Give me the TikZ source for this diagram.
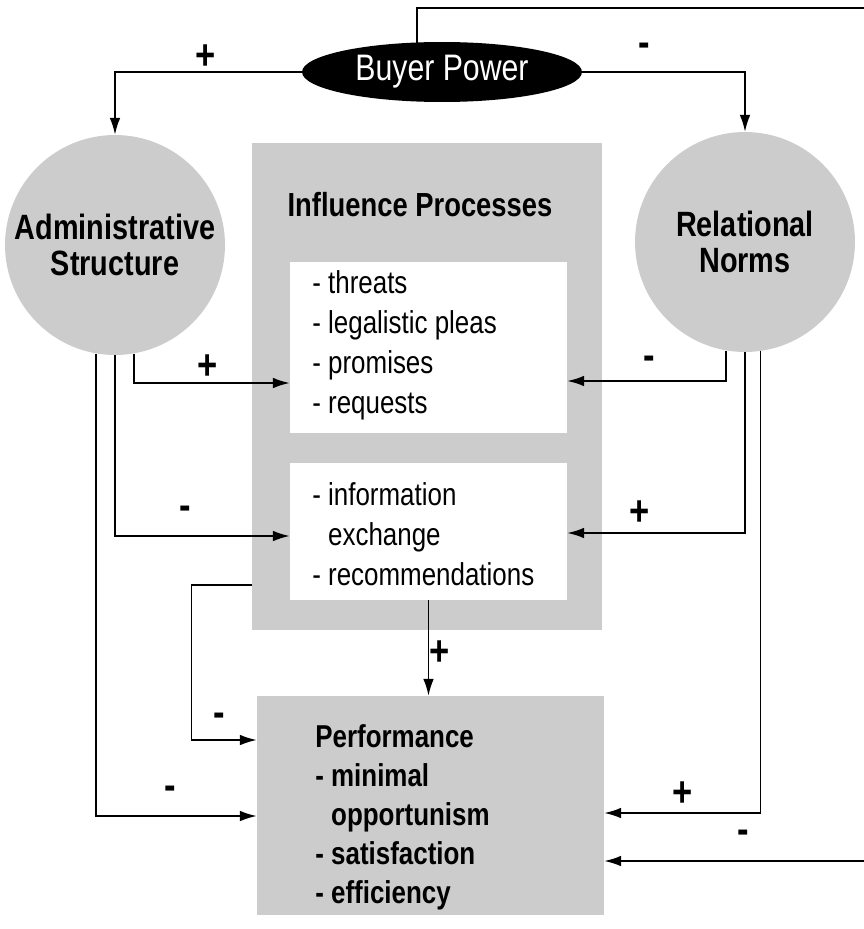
\documentclass[tikz,border=0pt]{standalone}
\usepackage{fontspec}
\setmainfont{Liberation Sans}[FakeStretch=0.82]
\usetikzlibrary{shapes.geometric, arrows.meta, calc}

\tikzset{
    pfeil/.style={-{Latex[length=9.5pt,width=6pt]}, line width=0.9pt},
    kreis/.style={circle, fill=black!20, minimum size=4.4cm, inner sep=0pt, align=center,
        font=\bfseries\fontsize{20}{20}\selectfont},
    grau/.style={rectangle, fill=black!20, inner sep=0pt},
    weiss/.style={rectangle, fill=white, inner sep=0pt},
    liste/.style={anchor=north west, align=left, inner sep=0pt,
        font=\fontsize{18}{22.8}\selectfont},
    zeichen/.style={inner sep=0pt, font=\bfseries\fontsize{24}{24}\selectfont},
}

\begin{document}
\begin{tikzpicture}[x=0.02cm, y=-0.02cm]
  \useasboundingbox (0,0) rectangle (863,929);

  % Kaesten
  \node[grau, minimum width=7cm, minimum height=9.74cm] (einfluss) at (427,386.5) {};
  \node[weiss, minimum width=5.54cm, minimum height=3.42cm] (druck) at (428.5,347.5) {};
  \node[weiss, minimum width=5.54cm, minimum height=2.74cm] (austausch) at (428.5,531.5) {};
  \node[grau, minimum width=6.94cm, minimum height=4.38cm] (leistung) at (430.5,805.5) {};

  % Texte
  \node[inner sep=0pt, font=\bfseries\fontsize{19}{22}\selectfont] (titel) at (420,205) {Influence Processes};
  \node[liste] (drucktext) at (312,270) {- threats\\- legalistic pleas\\- promises\\- requests};
  \node[liste] (austauschtext) at (312,482) {- information\\\hphantom{- }exchange\\- recommendations};
  \node[liste, font=\bfseries\fontsize{18}{22.2}\selectfont] (leistungtext) at (315,724)
    {Performance\\- minimal\\\hphantom{- }opportunism\\- satisfaction\\- efficiency};

  % Kreise und Ellipse
  \node[kreis] (adm) at (115,245) {Administrative\\Structure};
  \node[kreis] (rel) at (745,242) {Relational\\Norms};
  \node[ellipse, fill=black, text=white, minimum width=5.6cm, minimum height=1.2cm,
    inner sep=0pt, font=\fontsize{21}{24}\selectfont] (macht) at (442,72) {Buyer Power};

  % Rueckkopplung oben und rechts
  \coordinate (ecke1) at (868,8);
  \coordinate (ecke2) at (868,861);
  \draw[pfeil] ($(macht.north)+(-25,1)$) |- (ecke1) -- (ecke2) -- (ecke2 -| leistung.east);

  % Buyer Power
  \draw[pfeil] (macht.west) -| (adm.north);
  \draw[pfeil] (macht.east) -| (rel.north);

  % Administrative Structure
  \draw[pfeil] (adm.-80) |- ($(druck.west)+(0,35.5)$);
  \draw[pfeil] (adm.-90) |- ($(austausch.west)+(0,4.5)$);
  \draw[pfeil] (adm.-100) |- ($(leistung.west)+(0,10.5)$);

  % Relational Norms
  \draw[pfeil] (rel.-100) |- ($(druck.east)+(0,33.5)$);
  \draw[pfeil] (rel.-90) |- ($(austausch.east)+(0,1.5)$);
  \draw[pfeil] (rel.-82) |- ($(leistung.east)+(0,7.5)$);

  % Influence Processes -> Performance
  \draw[pfeil] ($(einfluss.west)+(0,198.5)$) -- ++(-60,0) |- ($(leistung.west)+(0,-65.5)$);
  \draw[pfeil] (austausch.south) -- (austausch.south |- leistung.north);

  % Vorzeichen
  \node[zeichen] (v1) at (206,57) {+};
  \node[zeichen] (v2) at (644,50) {-};
  \node[zeichen] (v3) at (208,367) {+};
  \node[zeichen] (v4) at (185,513) {-};
  \node[zeichen] (v5) at (170,793) {-};
  \node[zeichen] (v6) at (219,720) {-};
  \node[zeichen] (v7) at (440,653) {+};
  \node[zeichen] (v8) at (649,363) {-};
  \node[zeichen] (v9) at (640,513) {+};
  \node[zeichen] (v10) at (683,794) {+};
  \node[zeichen] (v11) at (743,837) {-};
\end{tikzpicture}
\end{document}
